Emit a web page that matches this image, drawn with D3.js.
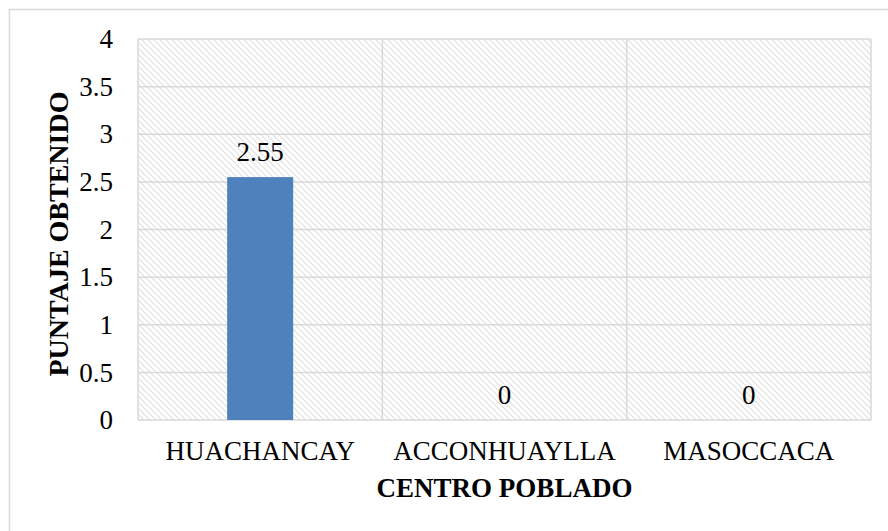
<!DOCTYPE html>
<html>
<head>
<meta charset="utf-8">
<script src="https://cdnjs.cloudflare.com/ajax/libs/d3/7.8.5/d3.min.js"></script>
<style>
  body { margin: 0; background: #fff; }
  text { font-family: "Liberation Serif", "Times New Roman", serif; fill: #000; }
</style>
</head>
<body>
<script>
var categories = ["HUACHANCAY", "ACCONHUAYLLA", "MASOCCACA"],
	values = [2.55, 0, 0],
	yTicks = [0, 0.5, 1, 1.5, 2, 2.5, 3, 3.5, 4];

var w = 888, h = 531,
	pd = { left: 138, top: 39, right: 871, bottom: 420 },
	grid = "#d9d9d9";

var svg = d3.select("body")
			.append("svg")
			.attr("width", w)
			.attr("height", h);

// hatch fill of the plot area
var pat = svg.append("defs")
			 .append("pattern")
			 .attr("id", "hatch")
			 .attr("patternUnits", "userSpaceOnUse")
			 .attr("width", 6)
			 .attr("height", 6);
pat.append("path")
   .attr("d", "M-1,-1L7,7M-1,5L1,7M5,-1L7,1")
   .attr("stroke", "#e0e0e0")
   .attr("stroke-width", 1.2);

// chart frame
svg.append("rect")
   .attr("x", 9.5).attr("y", 9.5)
   .attr("width", w + 10).attr("height", h + 10)
   .attr("fill", "none")
   .attr("stroke", grid)
   .attr("stroke-width", 1.5);

var x = d3.scaleBand()
		  .domain(categories)
		  .range([pd.left, pd.right])
		  .paddingInner(0)
		  .paddingOuter(0);

var y = d3.scaleLinear()
		  .domain([0, 4])
		  .range([pd.bottom, pd.top]);

svg.append("rect")
   .attr("x", pd.left).attr("y", pd.top)
   .attr("width", pd.right - pd.left)
   .attr("height", pd.bottom - pd.top)
   .attr("fill", "url(#hatch)");

// horizontal gridlines
svg.selectAll("line.hgrid")
   .data(yTicks)
   .enter()
   .append("line")
   .attr("class", "hgrid")
   .attr("x1", pd.left).attr("x2", pd.right)
   .attr("y1", function(d) { return y(d); })
   .attr("y2", function(d) { return y(d); })
   .attr("stroke", grid)
   .attr("stroke-width", 1.5);

// vertical gridlines at category edges
var edges = categories.map(function(c) { return x(c); }).concat([pd.right]);
svg.selectAll("line.vgrid")
   .data(edges)
   .enter()
   .append("line")
   .attr("class", "vgrid")
   .attr("x1", function(d) { return d; })
   .attr("x2", function(d) { return d; })
   .attr("y1", pd.top).attr("y2", pd.bottom)
   .attr("stroke", grid)
   .attr("stroke-width", 1.5);

// y axis labels
var yAxis = d3.axisLeft(y)
			  .tickValues(yTicks)
			  .tickSize(0)
			  .tickPadding(25)
			  .tickFormat(function(d) { return d; });
var gy = svg.append("g")
			.attr("transform", "translate(" + pd.left + ",0)")
			.call(yAxis);
gy.select(".domain").remove();
gy.selectAll("text")
  .style("font-family", "'Liberation Serif', serif")
  .style("font-size", "27px")
  .attr("fill", "#000");

// x axis labels
var xAxis = d3.axisBottom(x).tickSize(0).tickPadding(21);
var gx = svg.append("g")
			.attr("transform", "translate(0," + pd.bottom + ")")
			.call(xAxis);
gx.select(".domain").remove();
gx.selectAll("text")
  .style("font-family", "'Liberation Serif', serif")
  .style("font-size", "27px")
  .attr("fill", "#000");

// bars
var bw = 66;
svg.selectAll("rect.bar")
   .data(values)
   .enter()
   .append("rect")
   .attr("class", "bar")
   .attr("fill", "#4f81bd")
   .attr("x", function(d, i) { return x(categories[i]) + x.bandwidth() / 2 - bw / 2; })
   .attr("y", function(d) { return y(d); })
   .attr("width", bw)
   .attr("height", function(d) { return y(0) - y(d); });

// value labels
svg.selectAll("text.val")
   .data(values)
   .enter()
   .append("text")
   .attr("class", "val")
   .style("font-size", "27px")
   .attr("text-anchor", "middle")
   .attr("x", function(d, i) { return x(categories[i]) + x.bandwidth() / 2; })
   .attr("y", function(d) { return y(d) - 16; })
   .text(function(d) { return d; });

// axis titles
svg.append("text")
   .style("font-size", "27px")
   .attr("font-weight", "bold")
   .attr("text-anchor", "middle")
   .attr("x", (pd.left + pd.right) / 2)
   .attr("y", 497)
   .text("CENTRO POBLADO");

svg.append("text")
   .style("font-size", "28px")
   .attr("font-weight", "bold")
   .attr("text-anchor", "middle")
   .attr("transform", "translate(68,234) rotate(-90)")
   .text("PUNTAJE OBTENIDO");
</script>
</body>
</html>
